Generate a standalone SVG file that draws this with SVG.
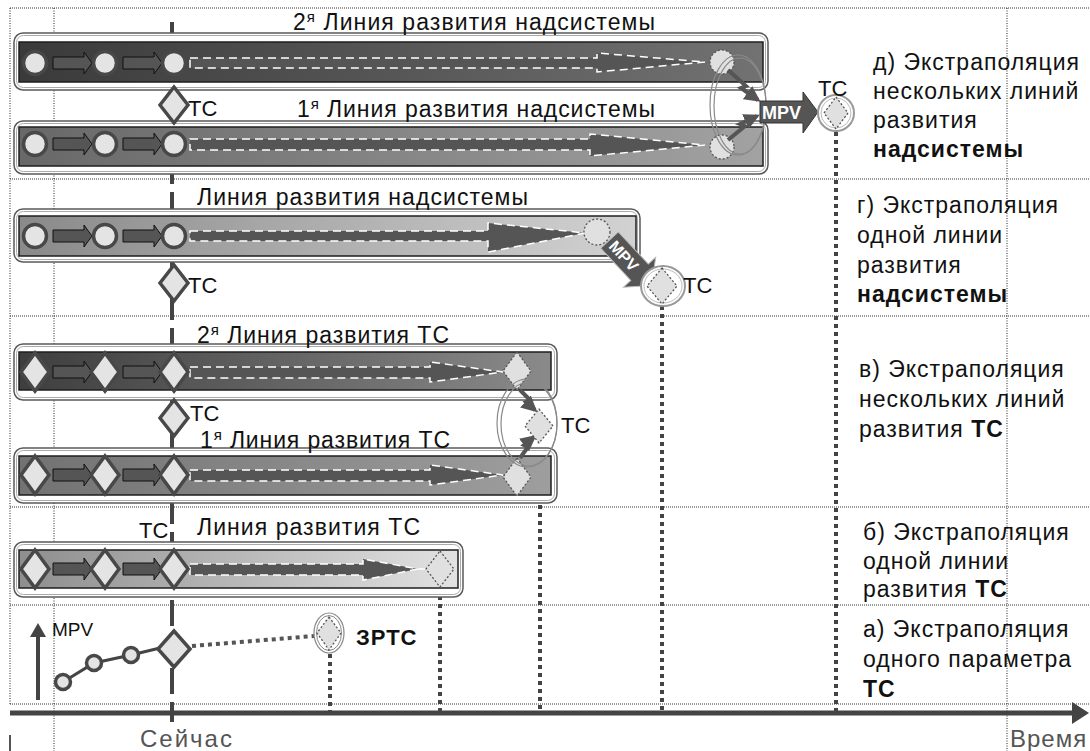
<svg xmlns="http://www.w3.org/2000/svg" width="1090" height="751" viewBox="0 0 1090 751">
<defs>
<linearGradient id="gD1" x1="0" x2="1" y1="0" y2="0"><stop offset="0" stop-color="#3a3a3a"/><stop offset="1" stop-color="#727272"/></linearGradient>
<linearGradient id="gD2" x1="0" x2="1" y1="0" y2="0"><stop offset="0" stop-color="#686868"/><stop offset="1" stop-color="#a2a2a2"/></linearGradient>
<linearGradient id="gG" x1="0" x2="1" y1="0" y2="0"><stop offset="0" stop-color="#8a8a8a"/><stop offset="1" stop-color="#d2d2d2"/></linearGradient>
<linearGradient id="gV1" x1="0" x2="1" y1="0" y2="0"><stop offset="0" stop-color="#3e3e3e"/><stop offset="1" stop-color="#8a8a8a"/></linearGradient>
<linearGradient id="gV2" x1="0" x2="1" y1="0" y2="0"><stop offset="0" stop-color="#727272"/><stop offset="1" stop-color="#9e9e9e"/></linearGradient>
<linearGradient id="gB" x1="0" x2="1" y1="0" y2="0"><stop offset="0" stop-color="#8e8e8e"/><stop offset="1" stop-color="#e2e2e2"/></linearGradient>
<marker id="ah" viewBox="0 0 10 10" refX="8" refY="5" markerWidth="4" markerHeight="4" orient="auto"><path d="M0,0 L10,5 L0,10 z" fill="#555"/></marker>
<style>
.grid{stroke:#222;stroke-width:1;stroke-dasharray:1 1.5;fill:none}
.gridh{stroke:#333;stroke-width:1.2;stroke-dasharray:1 1;fill:none}
.vdot{stroke:#444;stroke-width:4;stroke-dasharray:4 4;fill:none}
.outer{fill:#fff;stroke:#5a5a5a;stroke-width:1.5}
.outer2{fill:none;stroke:#aaa;stroke-width:1}
.inner{stroke:#1e1e1e;stroke-width:1.5}
.node{fill:#e4e4e4;stroke:#484848;stroke-width:3.5}
.blk{fill:#555;stroke:#111;stroke-width:1}
.band{fill:#555;stroke:#fff;stroke-width:1.5;stroke-dasharray:8 5}
.dnode{fill:#e0e0e0;stroke:#555;stroke-width:1.3;stroke-dasharray:2 2}
.ring{fill:none;stroke:#8a8a8a;stroke-width:1.2}
.lbl{font-family:"Liberation Sans",Arial,sans-serif;font-size:23px;fill:#111}
.cap{font-family:"Liberation Sans",Arial,sans-serif;font-size:23px;fill:#111;letter-spacing:1px}
.b{font-weight:bold}
.tc{font-family:"Liberation Sans",Arial,sans-serif;font-size:22px;fill:#111}
.ax{font-family:"Liberation Sans",Arial,sans-serif;font-size:24px;fill:#555;letter-spacing:2px}
.mpv{font-family:"Liberation Sans",Arial,sans-serif;font-size:18px;font-weight:bold;fill:#fff}
.zig{fill:none;stroke:#555;stroke-width:4;marker-end:url(#ah)}
</style>
</defs>
<rect width="1090" height="751" fill="#fff"/>

<g id="grid">
<line class="gridh" x1="10" y1="8" x2="1090" y2="8"/>
<line class="gridh" x1="10" y1="179" x2="1090" y2="179"/>
<line class="gridh" x1="10" y1="316" x2="1090" y2="316"/>
<line class="gridh" x1="10" y1="507" x2="1090" y2="507"/>
<line class="gridh" x1="10" y1="605" x2="1090" y2="605"/>
<line class="gridh" x1="10" y1="704" x2="1090" y2="704"/>
<line class="grid" x1="10" y1="8" x2="10" y2="704"/>
<line class="grid" x1="54" y1="8" x2="54" y2="751"/>
<line class="grid" x1="1007" y1="8" x2="1007" y2="751"/>
<line x1="10" y1="735" x2="10" y2="751" stroke="#555" stroke-width="2"/>
</g>

<g id="now-line">
<line x1="172" y1="22" x2="172" y2="722" stroke="#444" stroke-width="4" stroke-dasharray="26 8"/>
</g>

<g id="connectors">
<line class="vdot" x1="330" y1="654" x2="330" y2="713"/>
<line class="vdot" x1="440" y1="588" x2="440" y2="713"/>
<line class="vdot" x1="540" y1="497" x2="540" y2="713"/>
<line class="vdot" x1="662" y1="306" x2="662" y2="713"/>
<line class="vdot" x1="836" y1="132" x2="836" y2="713"/>
<polyline points="63,682 94,663 131,655 160,648" fill="none" stroke="#444" stroke-width="3"/>
<line x1="192" y1="646" x2="314" y2="636" stroke="#555" stroke-width="4" stroke-dasharray="4 4"/>
</g>

<g id="time-axis">
<line x1="10" y1="713" x2="1074" y2="713" stroke="#444" stroke-width="5"/>
<polygon points="1072,702 1089,713 1072,724" fill="#444"/>
<text class="ax" x="140" y="747">Сейчас</text>
<text class="ax" x="1010" y="747" style="letter-spacing:1px">Время</text>
</g>

<!-- Band д -->
<g id="d-line2">
<rect class="outer" x="14" y="33" width="754" height="57" rx="9"/>
<rect class="outer2" x="16.5" y="35.5" width="749" height="52" rx="7"/>
<rect class="inner" x="19" y="42" width="744" height="40" fill="url(#gD1)"/>
<polygon class="band" points="190,58 597,58 597,53 705,62 597,72 597,68 190,68"/>
<polygon class="blk" points="53,57 84,57 84,52 92,63 84,74 84,69 53,69"/>
<polygon class="blk" points="123,57 154,57 154,52 162,63 154,74 154,69 123,69"/>
<circle class="node" cx="35" cy="63" r="11.5"/>
<circle class="node" cx="105" cy="63" r="11.5"/>
<circle class="node" cx="174" cy="63" r="11.5"/>
<circle class="dnode" cx="722" cy="62" r="12"/>
<text class="lbl" x="293" y="30" textLength="362">2<tspan dy="-8" font-size="15">я</tspan><tspan dy="8"> Линия развития надсистемы</tspan></text>
</g>
<g id="d-line1">
<rect class="outer" x="14" y="121" width="754" height="53" rx="9"/>
<rect class="outer2" x="16.5" y="123.5" width="749" height="48" rx="7"/>
<rect class="inner" x="19" y="127" width="744" height="39" fill="url(#gD2)"/>
<polygon class="band" points="190,139 590,139 590,134 705,145 590,156 590,150 190,150"/>
<polygon class="blk" points="53,138 84,138 84,133 92,144 84,155 84,150 53,150"/>
<polygon class="blk" points="123,138 154,138 154,133 162,144 154,155 154,150 123,150"/>
<circle class="node" cx="35" cy="144" r="11.5"/>
<circle class="node" cx="105" cy="144" r="11.5"/>
<circle class="node" cx="174" cy="144" r="11.5"/>
<circle class="dnode" cx="722" cy="147" r="12"/>
<text class="lbl" x="297" y="117" textLength="358">1<tspan dy="-8" font-size="15">я</tspan><tspan dy="8"> Линия развития надсистемы</tspan></text>
</g>
<g id="d-tc-now">
<polygon class="node" points="174,87 188,105 174,123 160,105"/>
<text class="tc" x="188" y="116">ТС</text>
</g>
<g id="d-mpv">
<ellipse class="ring" cx="738" cy="105" rx="28" ry="50"/>
<ellipse class="ring" cx="740" cy="106" rx="26" ry="48" stroke="#aaa"/>
<path class="zig" d="M728,70 L746,86 L741,88 L758,100"/>
<path class="zig" d="M728,140 L745,126 L740,124 L757,116"/>
<polygon points="760,101 803,101 803,92 818,112 803,133 803,123 760,123" fill="#555" stroke="#333" stroke-width="1"/>
<text class="mpv" x="762" y="119">MPV</text>
<circle cx="836" cy="113" r="18" fill="#fff" stroke="#999" stroke-width="2"/>
<circle cx="836" cy="113" r="15" fill="none" stroke="#bbb" stroke-width="1"/>
<polygon class="dnode" points="836,97 848,113 836,129 824,113"/>
<text class="tc" x="818" y="96">ТС</text>
</g>

<!-- Band г -->
<g id="g-line">
<rect class="outer" x="14" y="209" width="626" height="53" rx="9"/>
<rect class="outer2" x="16.5" y="211.5" width="621" height="48" rx="7"/>
<rect class="inner" x="19" y="216" width="617" height="40" fill="url(#gG)"/>
<polygon class="band" points="190,231 488,231 488,223 585,233 488,252 488,241 190,241"/>
<polygon class="blk" points="53,230 84,230 84,225 92,236 84,247 84,242 53,242"/>
<polygon class="blk" points="123,230 154,230 154,225 162,236 154,247 154,242 123,242"/>
<circle class="node" cx="35" cy="236" r="11.5"/>
<circle class="node" cx="105" cy="236" r="11.5"/>
<circle class="node" cx="174" cy="236" r="11.5"/>
<circle class="dnode" cx="597" cy="232" r="13"/>
<text class="lbl" x="197" y="205" textLength="331">Линия развития надсистемы</text>
</g>
<g id="g-tc-now">
<polygon class="node" points="174,265 188,283 174,301 160,283"/>
<text class="tc" x="188" y="293">ТС</text>
</g>
<g id="g-mpv">
<g transform="translate(630,262) rotate(47)">
<polygon points="-30,-12 14,-12 14,-22 32,0 14,22 14,12 -30,12" fill="#555" stroke="#bbb" stroke-width="1"/>
<text class="mpv" x="-26" y="6" style="font-size:16px">MPV</text>
</g>
<ellipse cx="663" cy="286" rx="22" ry="20" fill="#fff" stroke="#999" stroke-width="2"/>
<ellipse cx="663" cy="286" rx="19" ry="17" fill="none" stroke="#bbb" stroke-width="1"/>
<polygon class="dnode" points="662,268 677,286 662,304 647,286"/>
<text class="tc" x="683" y="293">ТС</text>
</g>

<!-- Band в -->
<g id="v-line2">
<rect class="outer" x="14" y="344" width="543" height="56" rx="9"/>
<rect class="outer2" x="16.5" y="346.5" width="538" height="51" rx="7"/>
<rect class="inner" x="19" y="352" width="532" height="38" fill="url(#gV1)"/>
<polygon class="band" points="190,367 430,367 430,362 503,372 430,382 430,378 190,378"/>
<polygon class="blk" points="53,366 84,366 84,361 92,372 84,383 84,378 53,378"/>
<polygon class="blk" points="123,366 154,366 154,361 162,372 154,383 154,378 123,378"/>
<polygon class="node" points="35,353 49,372 35,391 21,372"/>
<polygon class="node" points="105,353 119,372 105,391 91,372"/>
<polygon class="node" points="174,353 188,372 174,391 160,372"/>
<polygon class="dnode" points="517,352 531,371 517,390 503,371"/>
<text class="lbl" x="197" y="343" textLength="252">2<tspan dy="-8" font-size="15">я</tspan><tspan dy="8"> Линия развития ТС</tspan></text>
</g>
<g id="v-tc-now">
<polygon class="node" points="174,400 188,418 174,436 160,418"/>
<text class="tc" x="190" y="421">ТС</text>
</g>
<g id="v-line1">
<rect class="outer" x="14" y="448" width="543" height="55" rx="9"/>
<rect class="outer2" x="16.5" y="450.5" width="538" height="50" rx="7"/>
<rect class="inner" x="19" y="456" width="532" height="39" fill="url(#gV2)"/>
<polygon class="band" points="190,470 430,470 430,465 503,475 430,485 430,481 190,481"/>
<polygon class="blk" points="53,469 84,469 84,464 92,475 84,486 84,481 53,481"/>
<polygon class="blk" points="123,469 154,469 154,464 162,475 154,486 154,481 123,481"/>
<polygon class="node" points="35,456 49,475 35,494 21,475"/>
<polygon class="node" points="105,456 119,475 105,494 91,475"/>
<polygon class="node" points="174,456 188,475 174,494 160,475"/>
<polygon class="dnode" points="517,458 531,477 517,496 503,477"/>
<text class="lbl" x="200" y="448" textLength="250">1<tspan dy="-8" font-size="15">я</tspan><tspan dy="8"> Линия развития ТС</tspan></text>
</g>
<g id="v-merge">
<ellipse class="ring" cx="527" cy="423" rx="30" ry="44"/>
<ellipse class="ring" cx="529" cy="424" rx="28" ry="42" stroke="#aaa"/>
<path class="zig" d="M520,390 L530,400 L526,402 L535,410"/>
<path class="zig" d="M520,458 L528,447 L524,445 L534,437"/>
<polygon class="dnode" points="539,409 553,426 539,443 525,426"/>
<text class="tc" x="561" y="433">ТС</text>
</g>

<!-- Band б -->
<g id="b-line">
<rect class="outer" x="14" y="542" width="449" height="55" rx="9"/>
<rect class="outer2" x="16.5" y="544.5" width="444" height="50" rx="7"/>
<rect class="inner" x="19" y="550" width="439" height="38" fill="url(#gB)"/>
<polygon class="band" points="190,564 363,564 363,559 418,569 363,580 363,575 190,575"/>
<line x1="418" y1="569" x2="426" y2="569" stroke="#fff" stroke-width="1.5"/>
<polygon class="blk" points="53,563 84,563 84,558 92,569 84,580 84,575 53,575"/>
<polygon class="blk" points="123,563 154,563 154,558 162,569 154,580 154,575 123,575"/>
<polygon class="node" points="35,550 49,569 35,588 21,569"/>
<polygon class="node" points="105,550 119,569 105,588 91,569"/>
<polygon class="node" points="174,550 188,569 174,588 160,569"/>
<polygon class="dnode" points="440,551 454,569 440,587 426,569"/>
<text class="lbl" x="197" y="535" textLength="223">Линия развития ТС</text>
<text class="tc" x="139" y="538">ТС</text>
</g>

<!-- Band а -->
<g id="a-param">
<line x1="38" y1="700" x2="38" y2="634" stroke="#444" stroke-width="4"/>
<polygon points="30,637 38,623 46,637" fill="#444"/>
<text class="tc" x="52" y="636" style="font-size:19px">MPV</text>
<circle class="node" cx="63" cy="682" r="7.5" stroke-width="3"/>
<circle class="node" cx="94" cy="663" r="7.5" stroke-width="3"/>
<circle class="node" cx="131" cy="655" r="7.5" stroke-width="3"/>
<polygon class="node" points="174,631 190,649 174,667 158,649"/>
</g>
<g id="a-zrts">
<ellipse cx="329" cy="633" rx="15" ry="20" fill="#fff" stroke="#888" stroke-width="1.2"/>
<ellipse cx="329" cy="633" rx="12.5" ry="17.5" fill="none" stroke="#888" stroke-width="1"/>
<polygon class="dnode" points="329,617 341,633 329,650 317,633"/>
<text class="tc b" x="356" y="645" style="letter-spacing:1px">ЗРТС</text>
</g>

<!-- Captions -->
<g id="cap-d">
<text class="cap" x="873" y="70">д) Экстраполяция</text>
<text class="cap" x="873" y="99">нескольких линий</text>
<text class="cap" x="873" y="128">развития</text>
<text class="cap b" x="873" y="157">надсистемы</text>
</g>
<g id="cap-g">
<text class="cap" x="857" y="213">г) Экстраполяция</text>
<text class="cap" x="857" y="243">одной линии</text>
<text class="cap" x="857" y="273">развития</text>
<text class="cap b" x="857" y="302">надсистемы</text>
</g>
<g id="cap-v">
<text class="cap" x="859" y="377">в) Экстраполяция</text>
<text class="cap" x="859" y="407">нескольких линий</text>
<text class="cap" x="859" y="437">развития <tspan class="b">ТС</tspan></text>
</g>
<g id="cap-b">
<text class="cap" x="863" y="540">б) Экстраполяция</text>
<text class="cap" x="863" y="569">одной линии</text>
<text class="cap" x="863" y="597">развития <tspan class="b">ТС</tspan></text>
</g>
<g id="cap-a">
<text class="cap" x="863" y="637">а) Экстраполяция</text>
<text class="cap" x="863" y="667">одного параметра</text>
<text class="cap b" x="863" y="697">ТС</text>
</g>
</svg>
